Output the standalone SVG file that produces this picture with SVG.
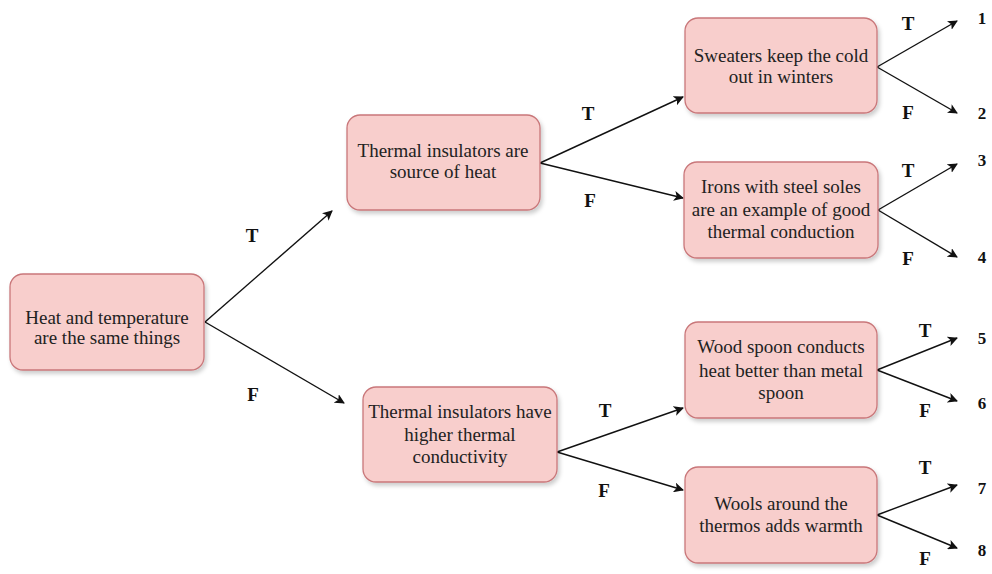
<svg xmlns="http://www.w3.org/2000/svg" width="992" height="574" viewBox="0 0 992 574">
<style>
.box{fill:#f8cecc;stroke:#c9777a;stroke-width:1.3}
.t{font-family:'Liberation Serif','DejaVu Serif',serif;font-size:19px;fill:#222;text-anchor:middle}
.l{font-family:'Liberation Serif','DejaVu Serif',serif;font-size:19px;font-weight:bold;fill:#111;text-anchor:middle}
.n{font-family:'Liberation Serif','DejaVu Serif',serif;font-size:17px;font-weight:bold;fill:#111;text-anchor:middle}
.c{stroke:#111;stroke-width:1.4;fill:none;marker-end:url(#ah)}
</style>
<defs>
<marker id="ah" viewBox="0 0 10 10" refX="9" refY="5" markerWidth="10" markerHeight="10" markerUnits="userSpaceOnUse" orient="auto">
<path d="M0,0 L10,5 L0,10 L2.5,5 Z" fill="#111"/>
</marker>
<filter id="sh" x="-10%" y="-10%" width="130%" height="130%">
<feDropShadow dx="2" dy="3" stdDeviation="2" flood-color="#000" flood-opacity="0.2"/>
</filter>
</defs>
<rect width="992" height="574" fill="#fff"/>
<g id="connectors">
<line class="c" x1="205" y1="322" x2="332" y2="211"/>
<line class="c" x1="205" y1="322" x2="344" y2="403"/>
<line class="c" x1="540" y1="163" x2="683" y2="97"/>
<line class="c" x1="540" y1="163" x2="683" y2="198"/>
<line class="c" x1="557" y1="452" x2="683" y2="408"/>
<line class="c" x1="557" y1="452" x2="683" y2="490"/>
<line class="c" x1="877" y1="67" x2="957" y2="21"/>
<line class="c" x1="877" y1="67" x2="957" y2="113"/>
<line class="c" x1="878" y1="210" x2="957" y2="164"/>
<line class="c" x1="878" y1="210" x2="957" y2="257"/>
<line class="c" x1="877" y1="370" x2="957" y2="338"/>
<line class="c" x1="877" y1="370" x2="957" y2="401"/>
<line class="c" x1="877" y1="515" x2="957" y2="485"/>
<line class="c" x1="877" y1="515" x2="957" y2="548"/>
</g>
<g id="labels">
<text class="l" x="252" y="242">T</text>
<text class="l" x="253" y="401">F</text>
<text class="l" x="588" y="120">T</text>
<text class="l" x="590" y="207">F</text>
<text class="l" x="605" y="417">T</text>
<text class="l" x="604" y="497">F</text>
<text class="l" x="908" y="30">T</text>
<text class="l" x="908" y="119">F</text>
<text class="l" x="908" y="177">T</text>
<text class="l" x="908" y="265">F</text>
<text class="l" x="925" y="337">T</text>
<text class="l" x="925" y="417">F</text>
<text class="l" x="925" y="474">T</text>
<text class="l" x="925" y="565">F</text>
<text class="n" x="982" y="24">1</text>
<text class="n" x="982" y="119">2</text>
<text class="n" x="982" y="166">3</text>
<text class="n" x="982" y="263">4</text>
<text class="n" x="982" y="344">5</text>
<text class="n" x="982" y="409">6</text>
<text class="n" x="982" y="494">7</text>
<text class="n" x="982" y="556">8</text>
</g>
<g id="root">
<rect class="box" x="10" y="274" width="194" height="96" rx="13" filter="url(#sh)"/>
<text class="t" x="107" y="324">Heat and temperature</text>
<text class="t" x="107" y="344">are the same things</text>
</g>
<g id="n_source">
<rect class="box" x="347" y="115" width="193" height="95" rx="13" filter="url(#sh)"/>
<text class="t" x="443" y="157">Thermal insulators are</text>
<text class="t" x="443" y="178">source of heat</text>
</g>
<g id="n_higher">
<rect class="box" x="363" y="387" width="194" height="95" rx="13" filter="url(#sh)"/>
<text class="t" x="460" y="418">Thermal insulators have</text>
<text class="t" x="460" y="441">higher thermal</text>
<text class="t" x="460" y="463">conductivity</text>
</g>
<g id="n_sweaters">
<rect class="box" x="685" y="18" width="192" height="95" rx="13" filter="url(#sh)"/>
<text class="t" x="781" y="62">Sweaters keep the cold</text>
<text class="t" x="781" y="83">out in winters</text>
</g>
<g id="n_irons">
<rect class="box" x="684" y="162" width="194" height="96" rx="13" filter="url(#sh)"/>
<text class="t" x="781" y="193">Irons with steel soles</text>
<text class="t" x="781" y="216">are an example of good</text>
<text class="t" x="781" y="238">thermal conduction</text>
</g>
<g id="n_wood">
<rect class="box" x="685" y="322" width="192" height="96" rx="13" filter="url(#sh)"/>
<text class="t" x="781" y="353">Wood spoon conducts</text>
<text class="t" x="781" y="377">heat better than metal</text>
<text class="t" x="781" y="399">spoon</text>
</g>
<g id="n_wools">
<rect class="box" x="685" y="467" width="192" height="96" rx="13" filter="url(#sh)"/>
<text class="t" x="781" y="510">Wools around the</text>
<text class="t" x="781" y="532">thermos adds warmth</text>
</g>
</svg>
